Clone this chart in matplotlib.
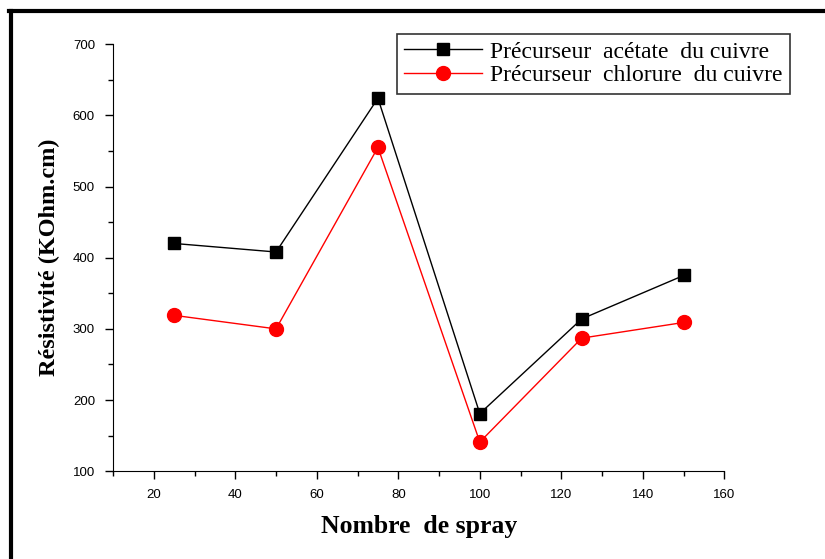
import numpy as np
import matplotlib.pyplot as plt
from matplotlib.lines import Line2D
from matplotlib.ticker import MultipleLocator

# data
nb_spray = [25, 50, 75, 100, 125, 150]
acetate = [420, 408, 624, 181, 314, 375]
chlorure = [319, 300, 555, 141, 287, 309]
labels = ["Précurseur  acétate  du cuivre", "Précurseur  chlorure  du cuivre"]

fig = plt.figure(figsize=(8.25, 5.59), dpi=100)
ax = fig.add_axes([0.137, 0.157, 0.741, 0.764])

ax.plot(nb_spray, acetate, color='black', lw=1, marker='s', ms=8.5,
        markerfacecolor='black', label=labels[0])
ax.plot(nb_spray, chlorure, color='red', lw=1, marker='o', ms=10,
        markerfacecolor='red', markeredgecolor='red', label=labels[1])

ax.set_xlim(10, 160)
ax.set_ylim(100, 700)
ax.xaxis.set_major_locator(MultipleLocator(20))
ax.xaxis.set_minor_locator(MultipleLocator(10))
ax.yaxis.set_major_locator(MultipleLocator(100))
ax.yaxis.set_minor_locator(MultipleLocator(50))
ax.spines['top'].set_visible(False)
ax.spines['right'].set_visible(False)
ax.tick_params(which='major', direction='out', length=6, width=1, labelsize=9.5, pad=7)
ax.tick_params(which='minor', direction='out', length=3.5, width=1)
for t in ax.get_xticklabels() + ax.get_yticklabels():
    t.set_family('Liberation Sans')

ax.set_xlabel("Nombre  de spray", family='Liberation Serif', fontweight='bold',
              fontsize=18.5, labelpad=10)
ax.set_ylabel("Résistivité (KOhm.cm)", family='Liberation Serif', fontweight='bold',
              fontsize=17.5, labelpad=9)

leg = fig.legend(loc='upper left', bbox_to_anchor=(397/825, 1-34/559),
                 prop={'family': 'Liberation Serif', 'size': 17},
                 frameon=True, fancybox=False, edgecolor='black',
                 handlelength=3.3, borderpad=0.3, labelspacing=0.1,
                 handletextpad=0.35, borderaxespad=0)
leg.get_frame().set_linewidth(1.2)

# thick frame on top and left of the picture
fig.add_artist(Line2D([9/825, 1], [1-11/559, 1-11/559], color='black', lw=3,
                      transform=fig.transFigure))
fig.add_artist(Line2D([11/825, 11/825], [0, 1-11/559], color='black', lw=3,
                      transform=fig.transFigure))

fig.savefig('out.png', dpi=100)
